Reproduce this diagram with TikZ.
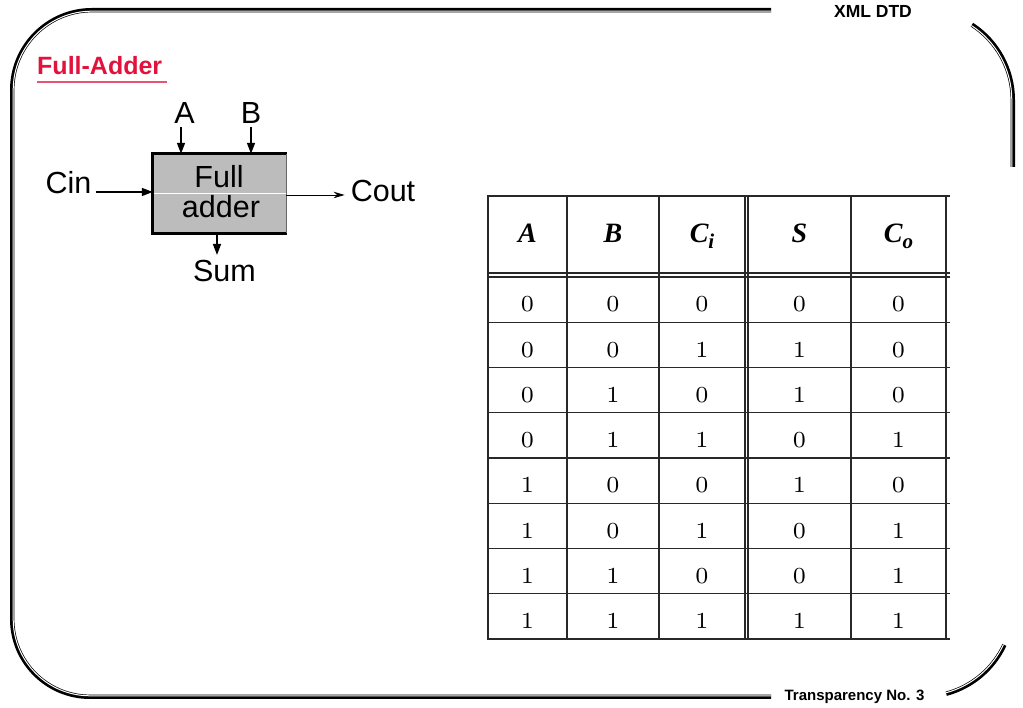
\documentclass[tikz,border=0pt]{standalone}
\usepackage{fontspec}
\newfontfamily\arialf{Liberation Sans}
\newfontfamily\timesf{Liberation Serif}
\newfontfamily\digf{lmroman7-regular.otf}
\usetikzlibrary{arrows.meta}
\definecolor{titlered}{RGB}{226,18,60}
\definecolor{ulred}{RGB}{232,84,112}
\definecolor{boxgray}{RGB}{188,188,188}
\definecolor{tabline}{RGB}{40,40,40}
\newcommand\frameparts[1]{%
  \draw (771,{698-#1}) -- (92,{698-#1}) arc[start angle=90,end angle=180,radius={80-#1}]
        -- ({12+#1},89) arc[start angle=180,end angle=270,radius={78-#1}] -- (771,{11+#1});
  \draw ([shift={(57:{90-#1})}]923,608) arc[start angle=57,end angle=0,radius={90-#1}] -- ({1013-#1},541);
  \draw ([shift={(-25:{90-#1})}]923,101) arc[start angle=-25,end angle=-75,radius={90-#1}];
}
\begin{document}
\begin{tikzpicture}[x=1pt,y=1pt,
  lbl/.style={inner sep=0pt, font=\arialf\fontsize{30.5}{30.5}\selectfont},
  arr/.style={line width=1.5pt, -{Triangle[length=11pt,width=8pt]}},
  thinarr/.style={line width=0.9pt, -{Stealth[length=11pt,width=6.5pt]}},
  tabl/.style={line width=1.2pt, draw=tabline},
  hd/.style={anchor=base, inner sep=0pt, font=\timesf\bfseries\itshape\fontsize{28}{28}\selectfont},
  dg/.style={anchor=base, inner sep=0pt, font=\digf\fontsize{23}{23}\selectfont},
  outerframe/.style={line width=4.4pt, black},
  innerframe/.style={line width=1pt, white},
]
\useasboundingbox (0,0) rectangle (1023,708);
\fill[white] (0,0) rectangle (1023,708);

% frame
\begin{scope}[outerframe]\frameparts{0.2}\end{scope}
\begin{scope}[innerframe]\frameparts{1.2}\end{scope}
\node[anchor=base, inner sep=0pt, font=\arialf\bfseries\fontsize{17.5}{17.5}\selectfont] (hdr) at (873,690) {XML DTD};
\node[anchor=base, inner sep=0pt, font=\arialf\bfseries\fontsize{15}{15}\selectfont] (ftr) at (854.5,7.5) {Transparency No. 3};

% title
\node[anchor=base west, inner sep=0pt, text=titlered, font=\arialf\bfseries\fontsize{25}{25}\selectfont] (title) at (37,633) {Full-Adder};
\draw[ulred, line width=2pt] (title.base west |- 0,626) -- (167,626);

% full adder block
\node[fill=boxgray, minimum width=133pt, minimum height=79pt, inner sep=0pt, draw=none] (fa) at (219.5,514.5) {};
\draw[white, line width=0.7pt] (fa.west |- 0,515) -- (fa.east |- 0,515);
\draw[line width=3pt] ([xshift=-1.5pt]fa.north west) -- ([xshift=0.5pt]fa.north east);
\draw[line width=3pt] ([xshift=-1.5pt]fa.south west) -- ([xshift=0.5pt]fa.south east);
\draw[line width=3pt] (fa.north west) -- (fa.south west);
\draw[line width=0.8pt, black!60] (fa.north east) -- (fa.south east);
\node[lbl, anchor=base] (full) at (219,520) {Full};
\node[lbl, anchor=base] (adder) at (221,490) {adder};

% labels
\node[lbl, anchor=base] (A) at (184.5,584) {A};
\node[lbl, anchor=base] (B) at (251,584) {B};
\node[lbl, anchor=base] (cin) at (68.5,514) {Cin};
\node[lbl, anchor=base] (cout) at (383,506) {Cout};
\node[lbl, anchor=base] (sum) at (224.5,426) {Sum};

% connectors
\draw[arr] ([xshift=-3.5pt,yshift=-3pt]A.base) -- ([xshift=-3.5pt]A.base |- fa.north);
\draw[arr] ([yshift=-3pt]B.base) -- (B.base |- fa.north);
\draw[arr] ([xshift=4pt,yshift=2pt]cin.base east) -- (fa.west |- 0,516);
\draw[thinarr] (fa.east |- 0,513) -- ([xshift=-6pt]cout.west |- 0,513);
\draw[arr] ([xshift=-7.5pt]sum.base |- fa.south) -- ([xshift=-7.5pt,yshift=27pt]sum.base);

% truth table
\foreach \x in {488,567,659,745,748,851,946}
  \draw[tabl] (\x,512) -- (\x,69);
\foreach \y in {512,435,431,385.75,340.5,295.25,250,204.75,159.5,114.25,69}
  \draw[tabl] (487.4,\y) -- (950,\y);

\node[hd] (h1) at (527.5,465) {A};
\node[hd] (h2) at (613,465) {B};
\node[hd] (h3) at (702,465) {C\raisebox{-6pt}{\fontsize{21}{21}\selectfont i}};
\node[hd] (h4) at (799.5,465) {S};
\node[hd] (h5) at (898.5,465) {C\raisebox{-6pt}{\fontsize{21}{21}\selectfont o}};

\foreach \row [count=\r] in {{0,0,0,0,0},{0,0,1,1,0},{0,1,0,1,0},{0,1,1,0,1},{1,0,0,1,0},{1,0,1,0,1},{1,1,0,0,1},{1,1,1,1,1}} {
  \foreach \v [count=\c] in \row {
    \pgfmathsetmacro\xx{{527.5,613,702,799.5,898.5}[\c-1]}
    \pgfmathsetmacro\yy{396-45.25*(\r-1)}
    \node[dg] (d\r-\c) at (\xx,\yy) {\v};
  }
}
\end{tikzpicture}
\end{document}
